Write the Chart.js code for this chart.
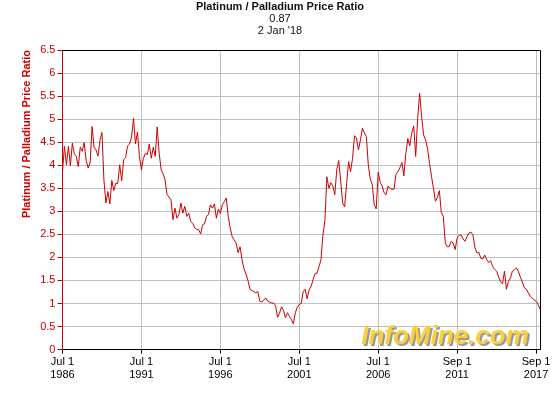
<!DOCTYPE html>
<html>
<head>
<meta charset="utf-8">
<script src="https://cdn.jsdelivr.net/npm/chart.js@4"></script>
<style>
  body { margin: 0; background: #fff; }
  canvas { display: block; }
</style>
</head>
<body>
<canvas id="ratioChart" width="560" height="400"></canvas>
<script>
// tick labels along the bottom (one every 40 samples)
var periodLabels = [
    ['Jul 1', '1986'], ['Jul 1', '1991'], ['Jul 1', '1996'], ['Jul 1', '2001'],
    ['Jul 1', '2006'], ['Sep 1', '2011'], ['Sep 1', '2017']
];
var samplesPerLabel = 40;

// platinum / palladium price ratio
var ratio = [
    3.86, 4.41, 4.01, 4.41, 3.99, 4.48, 4.25, 4.19, 3.97, 4.39,
    4.30, 4.49, 4.10, 3.94, 4.05, 4.84, 4.39, 4.33, 4.20, 4.54,
    4.71, 3.68, 3.18, 3.43, 3.16, 3.67, 3.45, 3.61, 3.60, 4.01,
    3.66, 4.12, 4.17, 4.42, 4.46, 4.61, 5.02, 4.46, 4.72, 4.19,
    3.90, 4.15, 4.26, 4.23, 4.46, 4.15, 4.39, 4.19, 4.83, 4.26,
    3.90, 3.81, 3.68, 3.36, 3.31, 3.25, 2.82, 3.07, 2.85, 2.93,
    3.18, 2.96, 3.11, 2.89, 2.96, 2.78, 2.74, 2.64, 2.61, 2.60,
    2.51, 2.71, 2.73, 2.89, 2.93, 3.14, 3.07, 3.16, 2.85, 3.05,
    2.95, 3.14, 3.21, 3.29, 2.89, 2.64, 2.45, 2.38, 2.31, 2.10,
    2.23, 1.95, 1.75, 1.64, 1.50, 1.31, 1.28, 1.26, 1.23, 1.26,
    1.05, 1.03, 1.08, 1.12, 1.05, 1.03, 1.01, 1.01, 0.95, 0.70,
    0.79, 0.93, 0.85, 0.69, 0.80, 0.72, 0.65, 0.56, 0.80, 0.92,
    0.98, 1.00, 1.26, 1.31, 1.10, 1.30, 1.37, 1.52, 1.65, 1.66,
    1.80, 1.95, 2.49, 2.80, 3.75, 3.50, 3.62, 3.55, 3.36, 3.90,
    4.10, 3.65, 3.18, 3.10, 3.60, 4.08, 3.86, 4.15, 4.64, 4.59,
    4.33, 4.55, 4.80, 4.70, 4.62, 4.00, 3.70, 3.58, 3.14, 3.05,
    3.85, 3.63, 3.55, 3.40, 3.36, 3.55, 3.50, 3.48, 3.48, 3.80,
    3.86, 3.95, 4.06, 3.77, 4.25, 4.58, 4.42, 4.70, 4.85, 4.19,
    5.02, 5.56, 5.05, 4.66, 4.55, 4.37, 4.04, 3.76, 3.50, 3.22,
    3.30, 3.45, 2.97, 2.89, 2.31, 2.23, 2.24, 2.35, 2.31, 2.17,
    2.42, 2.48, 2.49, 2.40, 2.35, 2.45, 2.53, 2.55, 2.49, 2.22,
    2.10, 2.11, 1.98, 1.97, 2.05, 1.95, 1.89, 1.93, 1.80, 1.74,
    1.70, 1.58, 1.47, 1.43, 1.70, 1.31, 1.48, 1.55, 1.70, 1.73,
    1.77, 1.70, 1.58, 1.47, 1.35, 1.31, 1.24, 1.16, 1.12, 1.08,
    1.05, 0.98, 0.88
];

var titleText = 'Platinum / Palladium Price Ratio';
var subtitleText = ['0.87', "2 Jan '18"];

var FONT = "'Liberation Sans', Arial, sans-serif";
var RED = '#cc0000';

// black frame on top and right, InfoMine watermark behind the line
var framePlugin = {
    id: 'frame',
    beforeDatasetsDraw: function (chart) {
        var c = chart.ctx, a = chart.chartArea;
        c.save();
        c.font = 'italic bold 26px ' + FONT;
        c.textAlign = 'center';
        c.textBaseline = 'alphabetic';
        c.fillStyle = '#9a9a9a';
        c.fillText('InfoMine.com', a.right - 93, a.bottom - 4);
        c.fillStyle = '#fbd03a';
        c.fillText('InfoMine.com', a.right - 95, a.bottom - 6);
        c.restore();
    },
    afterDraw: function (chart) {
        var c = chart.ctx, a = chart.chartArea;
        c.save();
        c.strokeStyle = '#000';
        c.lineWidth = 1;
        c.beginPath();
        c.moveTo(a.left, a.top + 0.5);
        c.lineTo(a.right + 0.5, a.top + 0.5);
        c.lineTo(a.right + 0.5, a.bottom);
        c.stroke();
        c.restore();
    }
};

var ctx = document.getElementById('ratioChart').getContext('2d');
var ratioChart = new Chart(ctx, {
    type: 'line',
    data: {
        datasets: [{
            data: ratio.map(function (v, i) { return { x: i, y: v }; }),
            borderColor: RED,
            borderWidth: 1,
            pointRadius: 0,
            tension: 0,
            fill: false
        }]
    },
    options: {
        responsive: false,
        animation: false,
        layout: { padding: { left: 20, right: 20, top: 0, bottom: 17 } },
        plugins: {
            legend: { display: false },
            tooltip: { enabled: false },
            title: {
                display: true,
                text: titleText,
                color: '#111',
                font: { family: FONT, size: 11, weight: 'bold', lineHeight: 1.1 },
                padding: { top: 0.5, bottom: 0 }
            },
            subtitle: {
                display: true,
                text: subtitleText,
                color: '#111',
                font: { family: FONT, size: 11, lineHeight: 1.1 },
                padding: { top: 0, bottom: 13.2 }
            }
        },
        scales: {
            x: {
                type: 'linear',
                min: 0,
                max: ratio.length - 1,
                afterBuildTicks: function (axis) {
                    axis.ticks = periodLabels.map(function (l, i) {
                        return { value: i * samplesPerLabel };
                    });
                },
                ticks: {
                    autoSkip: false,
                    maxRotation: 0,
                    color: '#000',
                    padding: 1.5,
                    font: { family: FONT, size: 11, lineHeight: 1.2 },
                    callback: function (value) {
                        return periodLabels[Math.round(value / samplesPerLabel)];
                    }
                },
                grid: { color: '#c0c0c0', tickColor: '#000', tickLength: 4, lineWidth: 1 },
                border: { color: '#000', width: 1 }
            },
            y: {
                min: 0,
                max: 6.5,
                ticks: {
                    stepSize: 0.5,
                    color: RED,
                    padding: 2,
                    font: { family: FONT, size: 11 },
                    callback: function (value) { return String(value); }
                },
                grid: { color: '#c0c0c0', tickColor: RED, tickLength: 5, lineWidth: 1 },
                border: { color: RED, width: 1 },
                title: {
                    display: true,
                    text: 'Platinum / Palladium Price Ratio',
                    align: 'end',
                    color: RED,
                    font: { family: FONT, size: 11, weight: 'bold', lineHeight: 1.2 },
                    padding: { top: 0, bottom: 5 }
                }
            }
        }
    },
    plugins: [framePlugin]
});
</script>
</body>
</html>
